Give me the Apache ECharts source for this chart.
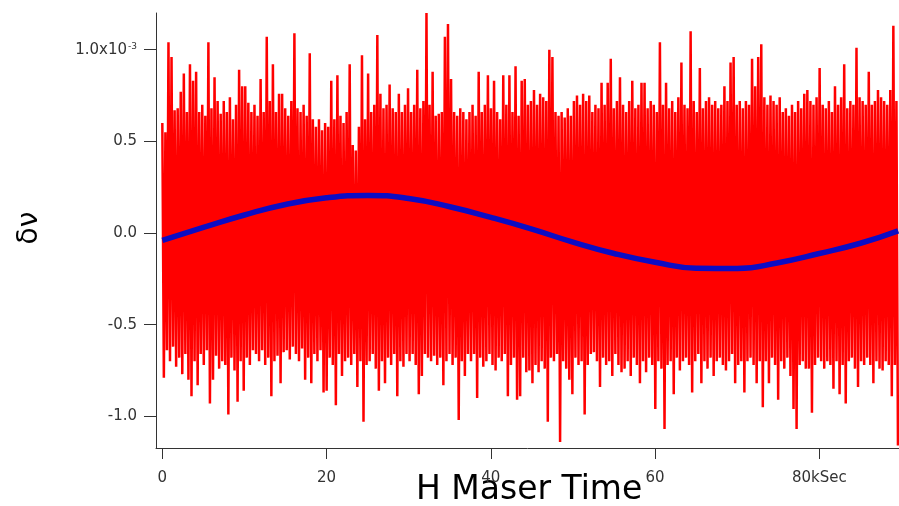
<!DOCTYPE html>
<html>
<head>
<meta charset="utf-8">
<script src="https://cdn.jsdelivr.net/npm/echarts@6/dist/echarts.min.js"></script>
<style>
html,body{margin:0;padding:0;background:#fff;}
#chart{width:899px;height:506px;}
</style>
</head>
<body>
<div id="chart"></div>
<script>
// Sampling step of the noisy maser record (kSec) and units (values in 1e-5)
const xStep = 0.374;
const valueUnit = 1e-5;

// Upper excursions of the red noisy trace, read left to right
const topVals = [
  60,55,104,96,67,68,77,87,66,92,
  83,88,66,70,64,104,68,85,72,65,
  72,66,74,62,70,89,80,80,71,66,
  70,64,84,66,107,72,92,66,76,76,
  68,64,72,109,68,66,70,64,98,62,
  58,62,56,60,58,83,62,86,64,60,
  66,92,48,45,58,97,62,87,66,70,
  108,76,68,70,81,68,66,76,66,70,
  79,66,70,89,68,72,120,70,88,64,
  65,66,107,114,84,66,64,68,66,62,
  66,70,64,88,66,70,86,68,83,66,
  62,86,70,86,66,91,64,83,84,70,
  72,78,70,76,74,72,100,96,66,64,
  66,63,68,64,72,75,70,76,72,75,
  66,70,68,82,70,82,95,68,72,85,
  70,66,72,83,68,70,82,82,68,72,
  70,66,104,70,82,68,72,66,74,93,
  70,68,110,72,66,90,68,72,74,70,
  72,68,70,80,72,93,96,70,72,68,
  72,70,95,80,96,103,74,70,75,72,
  70,74,66,68,64,70,66,72,68,76,
  78,72,70,74,90,70,68,72,66,80,
  70,74,92,68,72,70,101,74,72,70,
  88,70,72,78,74,72,70,78,113,72
];

// Lower excursions of the red noisy trace, read left to right
const botVals = [
  -79,-64,-70,-62,-73,-68,-77,-66,-80,-89,
  -70,-83,-66,-72,-64,-93,-80,-67,-74,-70,
  -72,-99,-68,-75,-92,-70,-86,-68,-72,-64,
  -66,-70,-64,-72,-68,-89,-70,-67,-82,-65,
  -64,-69,-62,-66,-70,-63,-80,-68,-82,-66,
  -70,-64,-87,-86,-68,-72,-94,-66,-78,-70,
  -68,-72,-66,-84,-70,-103,-72,-70,-66,-74,
  -86,-70,-82,-68,-72,-66,-89,-70,-73,-66,
  -70,-66,-72,-88,-78,-66,-68,-70,-67,-72,
  -68,-83,-70,-66,-72,-68,-102,-70,-78,-66,
  -70,-66,-90,-68,-73,-70,-66,-72,-75,-68,
  -70,-66,-89,-72,-68,-91,-89,-68,-76,-75,
  -82,-72,-76,-70,-74,-103,-68,-70,-66,-114,
  -70,-74,-80,-88,-68,-72,-70,-99,-72,-66,
  -65,-70,-84,-68,-72,-70,-78,-66,-72,-76,
  -74,-70,-78,-68,-72,-82,-70,-76,-68,-72,
  -96,-70,-74,-107,-72,-70,-88,-68,-75,-70,
  -68,-72,-87,-70,-66,-82,-70,-74,-68,-78,
  -70,-68,-72,-75,-70,-66,-82,-72,-70,-87,
  -70,-68,-72,-82,-70,-95,-70,-82,-68,-72,
  -91,-70,-74,-68,-78,-96,-107,-72,-70,-74,
  -74,-98,-72,-68,-70,-74,-70,-72,-85,-70,
  -88,-72,-93,-70,-68,-74,-84,-70,-72,-68,
  -72,-82,-70,-74,-75,-70,-72,-89,-72,-116
];

// Blue fitted (sinusoidal) curve
const fitX = [0,5,10,15,20,25,30,35,40,45,50,55,60,65,70,75,80,85,89.6];
const fitY = [-0.040,0.030,0.098,0.155,0.192,0.205,0.188,0.143,0.085,0.021,-0.050,-0.112,-0.160,-0.192,-0.194,-0.162,-0.112,-0.056,0.012];
const fitUnit = 1e-3;

// Tick labels
const xTicks = [0,20,40,60,80];
const xTickLabels = ['0','20','40','60','80kSec'];
const yTicks = [-1.0e-3,-0.5e-3,0,0.5e-3,1.0e-3];
const yTickLabels = ['-1.0','-0.5','0.0','0.5','1.0x10'];
const yTickSup = ['','','','','-3'];

const xTitle = 'H Maser Time';
const yTitle = 'δν';

const redData = [];
for (let i = 0; i < topVals.length; i++) {
  redData.push([i * xStep, topVals[i] * valueUnit]);
  redData.push([i * xStep + xStep / 2, botVals[i] * valueUnit]);
}
const blueData = fitX.map((x, i) => [x, fitY[i] * fitUnit]);

const FONT = 'DejaVu Sans';
const chart = echarts.init(document.getElementById('chart'), null, {renderer: 'canvas'});
chart.setOption({
  animation: false,
  backgroundColor: '#ffffff',
  grid: {left: 156, right: 0, top: 13, bottom: 58, containLabel: false},
  xAxis: {
    type: 'value',
    min: -0.77,
    max: 89.70,
    axisLine: {show: true, onZero: false, lineStyle: {color: '#333', width: 1}},
    axisTick: {show: true, length: 11, customValues: xTicks, lineStyle: {color: '#333'}},
    axisLabel: {
      show: true, margin: 23, customValues: xTicks,
      fontFamily: FONT, fontSize: 15, color: '#333',
      formatter: function (v) {
        const k = xTicks.indexOf(Math.round(v));
        return k >= 0 ? xTickLabels[k] : '';
      }
    },
    splitLine: {show: false}
  },
  yAxis: {
    type: 'value',
    min: -1.173e-3,
    max: 1.2e-3,
    axisLine: {show: true, onZero: false, lineStyle: {color: '#333', width: 1}},
    axisTick: {show: true, length: 12, customValues: yTicks, lineStyle: {color: '#333'}},
    axisLabel: {
      show: true, margin: 19, customValues: yTicks,
      fontFamily: FONT, fontSize: 15, color: '#333',
      formatter: function (v) {
        let k = -1;
        for (let j = 0; j < yTicks.length; j++) if (Math.abs(yTicks[j] - v) < 1e-9) k = j;
        if (k < 0) return '';
        return yTickSup[k] ? '{m|' + yTickLabels[k] + '}{s|' + yTickSup[k] + '}' : '{m|' + yTickLabels[k] + '}';
      },
      rich: {
        m: {fontFamily: FONT, fontSize: 15, color: '#333', lineHeight: 16},
        s: {fontFamily: FONT, fontSize: 9, color: '#333', verticalAlign: 'top', lineHeight: 10, padding: [0, 0, 6, 1]}
      }
    },
    splitLine: {show: false}
  },
  series: [
    {
      type: 'line',
      data: redData,
      showSymbol: false,
      symbol: 'none',
      lineStyle: {color: '#ff0000', width: 2.5},
      z: 2
    },
    {
      type: 'line',
      data: blueData,
      smooth: true,
      showSymbol: false,
      symbol: 'none',
      lineStyle: {color: '#0c0cc4', width: 5.5},
      z: 3
    }
  ],
  graphic: [
    {
      type: 'text', left: 416, top: 474,
      style: {text: xTitle, fontFamily: FONT, fontSize: 33, fill: '#000'}
    },
    {
      type: 'text', x: 30, y: 228, rotation: Math.PI / 2,
      style: {text: yTitle, fontFamily: FONT, fontSize: 28, fill: '#000', align: 'center', verticalAlign: 'middle'}
    }
  ]
});
</script>
</body>
</html>
